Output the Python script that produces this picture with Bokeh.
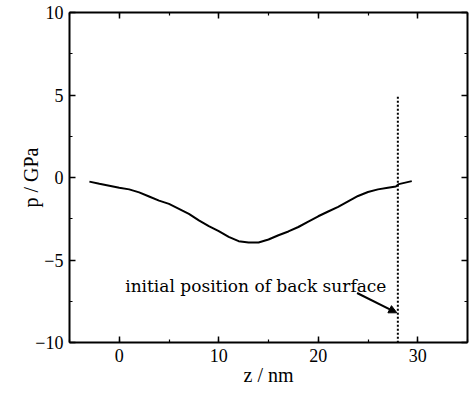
from bokeh.plotting import figure
from bokeh.models import (LinearAxis, Arrow, NormalHead, Range1d,
                          SingleIntervalTicker, CustomJSTickFormatter)
from bokeh.core.properties import value
from bokeh.embed import file_html
from bokeh.resources import INLINE

# data
z = [-3, -2, -1, 0, 1, 2, 3, 4, 5, 6, 7, 8, 9, 10, 11, 12, 13, 14, 15, 16,
     17, 18, 19, 20, 21, 22, 23, 24, 25, 26, 27, 27.8, 28.1, 29.4]
p_gpa = [-0.25, -0.38, -0.5, -0.62, -0.72, -0.9, -1.15, -1.4, -1.6, -1.9,
         -2.2, -2.6, -2.95, -3.25, -3.6, -3.86, -3.94, -3.94, -3.76, -3.5,
         -3.27, -3.0, -2.67, -2.35, -2.06, -1.78, -1.45, -1.12, -0.88, -0.72,
         -0.62, -0.55, -0.4, -0.22]
surface_z = [28.0, 28.0]
surface_p = [4.9, -10.0]
annotation_text = "initial position of back surface"
annotation_pos = (0.6, -6.55)
arrow_start = (23.9, -7.0)
arrow_end = (27.9, -8.2)
x_title = "z / nm"
y_title = "p / GPa"
x_ticks_step = 10
y_ticks_step = 5

SERIF = "Liberation Serif"

p = figure(width=471, height=394, output_backend="svg", toolbar_location=None,
           x_range=Range1d(-5, 35), y_range=Range1d(-10, 10),
           min_border_left=69, min_border_right=4, min_border_top=12,
           min_border_bottom=52, x_axis_location=None, y_axis_location=None)
p.outline_line_color = None
p.xgrid.visible = False
p.ygrid.visible = False
p.background_fill_color = "white"
p.border_fill_color = "white"

blank = CustomJSTickFormatter(code="return ''")


def style(ax, labels=True):
    ax.axis_line_width = 2
    ax.axis_line_color = "black"
    ax.major_tick_in = 6
    ax.major_tick_out = 0
    ax.minor_tick_in = 3
    ax.minor_tick_out = 0
    ax.major_tick_line_width = 1.5
    ax.minor_tick_line_width = 1.2
    ax.major_tick_line_color = "black"
    ax.minor_tick_line_color = "black"
    if labels:
        ax.major_label_text_font = SERIF
        ax.major_label_text_font_size = "18px"
        ax.major_label_text_color = "black"
        ax.major_label_standoff = 6
        ax.axis_label_text_font = SERIF
        ax.axis_label_text_font_size = "20px"
        ax.axis_label_text_font_style = "normal"
        ax.axis_label_text_color = "black"
    else:
        ax.formatter = blank
        ax.major_label_text_font_size = "0px"
        ax.major_label_standoff = 0


for loc in ["below", "above"]:
    ax = LinearAxis(ticker=SingleIntervalTicker(interval=x_ticks_step, num_minor_ticks=2))
    style(ax, labels=(loc == "below"))
    if loc == "below":
        ax.axis_label = x_title
        ax.axis_label_standoff = -1
    p.add_layout(ax, loc)
for loc in ["left", "right"]:
    ax = LinearAxis(ticker=SingleIntervalTicker(interval=y_ticks_step, num_minor_ticks=2))
    style(ax, labels=(loc == "left"))
    if loc == "left":
        ax.axis_label = y_title
        ax.axis_label_standoff = -10
    p.add_layout(ax, loc)

# curve
p.line(z, p_gpa, line_color="black", line_width=2)
# dotted vertical line
p.line(surface_z, surface_p, line_color="black", line_width=2, line_dash="2 2")

# annotation
p.text(x=[annotation_pos[0]], y=[annotation_pos[1]], text=[annotation_text],
       text_font=value("DejaVu Serif"), text_font_size="17px",
       text_baseline="alphabetic", text_align="left", text_color="black")
p.add_layout(Arrow(x_start=arrow_start[0], y_start=arrow_start[1],
                   x_end=arrow_end[0], y_end=arrow_end[1], line_width=2,
                   end=NormalHead(size=8, fill_color="black", line_color="black")))

open("out.html", "w").write(file_html(p, INLINE))
